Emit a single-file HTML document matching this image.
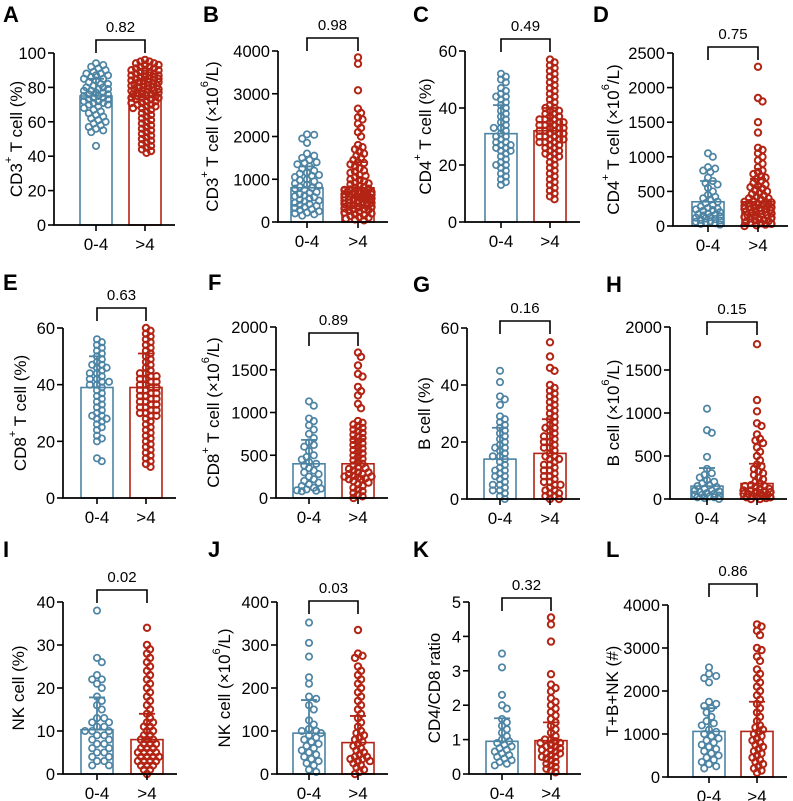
<!DOCTYPE html>
<html><head><meta charset="utf-8"><style>
html,body{margin:0;padding:0;background:#fff;}
svg{display:block;font-family:"Liberation Sans",Arial,sans-serif;}
</style></head><body>
<svg id="fig" width="793" height="801" viewBox="0 0 793 801" xmlns="http://www.w3.org/2000/svg"></svg>
<script>
// ---- data ----
const groups = ["0-4", ">4"];
const pValues = ["0.82","0.98","0.49","0.75","0.63","0.89","0.16","0.15","0.02","0.03","0.32","0.86"];
const barMeans = [[75,75],[800,800],[31,32],[350,350],[39,39],[400,400],[14,16],[150,180],[10.3,8],[95,73],[0.95,0.97],[1060,1060]];
const barSDTop = [[85,85],[1300,1400],[41,40],[650,680],[50,51],[680,690],[25,28],[360,410],[17.8,14],[172,135],[1.62,1.5],[1600,1750]];
const tickMax = [100,4000,60,2500,60,2000,60,2000,40,400,5,4000];
const tickStep = [20,1000,20,500,20,500,20,500,10,100,1,1000];

const aBlue=[94,93,92,91,90,89,88,88,87,87,86,85,85,84,83,82,82,81,80,80,79,79,78,78,77,77,76,76,75,75,74,74,73,73,72,72,71,71,70,70,69,68,67,66,65,64,63,62,61,60,59,58,57,56,55,54,46];
const aRed=[96,95,95,94,94,93,93,92,92,91,91,90,90,90,89,89,88,88,88,87,87,87,86,86,86,85,85,85,84,84,84,83,83,83,82,82,82,81,81,81,80,80,80,79,79,79,78,78,78,77,77,77,76,76,76,75,75,75,74,74,74,73,73,72,72,71,71,70,70,69,69,68,68,67,66,65,64,63,62,61,60,59,58,57,56,55,54,53,52,51,50,49,48,47,46,45,44,43,42];
const bBlue=[2050,2040,1950,1850,1600,1550,1500,1450,1400,1380,1350,1300,1250,1200,1150,1130,1100,1080,1050,1000,980,950,900,870,850,820,800,780,750,700,680,650,620,600,580,550,520,500,480,450,420,400,380,350,330,300,280,250,220,200,180,150];
const bRed=[3850,3700,3080,2650,2550,2450,2400,2300,2200,2100,2000,1800,1750,1700,1650,1600,1550,1500,1450,1400,1380,1350,1300,1250,1200,1180,1150,1100,1080,1050,1000,980,950,920,900,880,850,820,800,780,760,740,720,700,680,660,640,620,600,580,560,540,520,500,480,460,440,420,400,380,360,340,320,300,280,260,240,220,200,180,160,140,120,100,80,60,40,700,650,600,550,500,450,400,350,300,600,550,500,650,700,750,500,450];
const cBlue=[52,51,50,49,47,46,45,44,44,43,42,41,40,39,38,37,36,35,34,33,33,32,31,30,30,29,28,28,27,27,26,26,25,25,24,23,22,21,20,20,19,18,17,16,15,14,13];
const cRed=[57,56,55,54,53,52,51,50,49,48,47,46,45,44,43,42,41,40,40,39,39,38,38,37,37,36,36,36,35,35,35,34,34,34,33,33,33,32,32,32,31,31,31,30,30,30,29,29,29,28,28,28,27,27,26,26,25,25,24,24,23,23,22,21,20,19,18,17,16,15,14,13,12,11,10,9,8];
const dBlue=[1050,1000,850,830,800,780,700,650,620,600,550,500,450,420,400,380,350,330,300,280,260,250,240,230,220,200,180,170,160,150,140,130,120,110,100,90,80,70,60,50,40,30,20];
const dRed=[2300,1850,1800,1500,1350,1130,1100,1050,1000,950,900,850,800,780,750,720,700,680,650,620,600,580,560,540,520,500,480,460,440,420,400,380,360,350,340,330,320,310,300,290,280,270,260,250,240,230,220,210,200,190,180,170,160,150,140,130,120,110,100,90,80,70,60,50,40,30,20,10,0,300,250,200,350,400,250];
const eBlue=[56,55,54,53,52,51,50,49,48,47,47,46,46,45,44,44,43,42,42,41,41,40,40,39,38,37,36,35,34,33,32,31,30,29,29,28,28,27,26,25,24,22,21,20,14,13];
const eRed=[60,59,58,57,56,55,54,53,52,51,50,49,48,47,46,45,44,44,43,43,42,42,41,41,40,40,39,39,38,38,37,37,36,36,35,35,34,34,33,33,32,32,31,31,30,30,29,29,28,27,26,25,24,23,22,21,20,19,18,17,16,15,14,13,12,11];
const fBlue=[1130,1080,930,900,850,800,750,700,650,620,600,550,500,480,450,420,400,380,350,320,300,280,250,220,200,180,160,140,120,110,100,90,85,80];
const fRed=[1700,1650,1550,1450,1420,1300,1250,1200,1100,1050,900,880,860,840,820,800,780,760,740,720,700,680,660,640,620,600,580,560,540,520,500,480,460,440,420,400,380,360,340,320,300,280,260,250,240,230,220,200,180,160,140,120,100,80,60,40,20,0,300,250,350,280,220];
const gBlue=[45,41,36,35,33,29,28,27,26,25,24,23,22,21,20,19,18,17,16,15,14,13,12,11,10,9,8,7,6,5,4,3,2,1,0,10,8,5,3,15,18];
const gRed=[55,50,46,45,40,39,38,37,36,35,34,33,32,31,30,29,28,27,26,25,24,23,22,21,20,19,18,17,16,15,14,13,12,11,10,9,8,7,6,5,4,3,2,1,0,20,18,15,12,10,8,5,3,2,1,0,25,22,14,6];
const hBlue=[1050,800,770,490,350,300,280,250,220,200,180,160,150,140,120,100,90,80,70,60,50,40,30,20,10,0,100,50,20];
const hRed=[1800,1150,1020,880,850,750,700,680,650,600,550,500,450,400,380,350,320,300,280,250,230,200,180,160,150,140,120,100,90,80,70,60,50,40,30,20,10,0,100,80,60,40,20,0,150,120];
const iBlue=[38,27,26,23,22,22,21,20,18,17,16,15,13,13,12,12,11,11,10,10,10,9,9,8,8,7,7,6,6,5,5,4,4,3,3,2,2];
const iRed=[34,30,29,28,27,26,25,24,23,22,21,20,19,18,17,16,15,14,13,12,12,11,11,10,10,9,9,8,8,8,7,7,7,6,6,6,5,5,5,5,4,4,4,4,3,3,3,3,2,2,2,1,1,0];
const jBlue=[352,305,273,225,210,180,175,160,150,125,115,105,100,100,95,90,85,80,75,70,65,60,55,50,45,40,35,30,25,20,10,5];
const jRed=[335,280,275,270,250,240,230,220,210,200,190,180,170,160,150,140,130,120,110,100,95,90,85,80,75,70,65,60,55,50,45,40,40,35,35,30,30,25,20,15,10,5,0];
const kBlue=[3.5,3.1,2.3,2.0,1.9,1.6,1.5,1.4,1.3,1.2,1.1,1.0,0.95,0.9,0.85,0.8,0.75,0.7,0.65,0.6,0.55,0.5,0.45,0.4,0.35,0.3,0.25];
const kRed=[4.55,4.35,3.85,2.9,2.6,2.5,2.4,2.2,2.1,2.0,1.9,1.8,1.7,1.6,1.5,1.4,1.3,1.2,1.1,1.0,1.0,0.95,0.9,0.9,0.85,0.8,0.8,0.75,0.7,0.7,0.65,0.6,0.6,0.55,0.5,0.5,0.45,0.4,0.35,0.3,0.25,0.2,0.15,0.1,0.05];
const lBlue=[2550,2400,2350,2300,2200,1750,1700,1650,1600,1500,1400,1300,1250,1200,1100,1050,1000,950,900,850,800,750,700,650,600,550,500,450,400,350,300,250,200];
const lRed=[3550,3500,3400,3300,3000,2950,2800,2700,2500,2400,2300,2200,2100,2000,1900,1800,1700,1600,1500,1400,1300,1200,1150,1100,1050,1000,950,900,850,800,750,700,650,600,550,500,450,400,350,300,250,200,150,100];

const blueSets=[aBlue,bBlue,cBlue,dBlue,eBlue,fBlue,gBlue,hBlue,iBlue,jBlue,kBlue,lBlue];
const redSets=[aRed,bRed,cRed,dRed,eRed,fRed,gRed,hRed,iRed,jRed,kRed,lRed];

// ---- layout (not data) ----
const letters="ABCDEFGHIJKL";
const L=[ // axisX, top, bottom, c1, c2, bracketY, labelX, letterX, letterY
 [54,53,225,96,145,40,16,3,22],[278,51,222,307,358,38,212,203,22],[465,51,222,501,550,39,425,413,22],[673,53,226,708,758,47,613,593,22],
 [63,328,498,97,146,308,20,3,290],[276,327,498,309,358,333,213,208,290],[467,328,499,500,550,321,424,413,292],[670,327,499,707,757,322,613,606,292],
 [63,602,774,97,147,590,18,3,557],[277,602,774,309,358,601,224,208,557],[469,602,774,502,551,598,434,413,557],[668,605,777,709,757,584,612,606,557]];
const titles=[
 [["CD3"],["+",1],[" T cell (%)"]],[["CD3"],["+",1],[" T cell (×10"],["6",1],["/L)"]],[["CD4"],["+",1],[" T cell (%)"]],[["CD4"],["+",1],[" T cell  (×10"],["6",1],["/L)"]],
 [["CD8"],["+",1],[" T cell (%)"]],[["CD8"],["+",1],[" T cell (×10"],["6",1],["/L)"]],[["B cell (%)"]],[["B cell (×10"],["6",1],["/L)"]],
 [["NK cell (%)"]],[["NK cell (×10"],["6",1],["/L)"]],[["CD4/CD8 ratio"]],[["T+B+NK (#)"]]];
const colors=["#4d84a4","#b32414"];
const NS="http://www.w3.org/2000/svg";
const svg=document.getElementById('fig');
function mk(tag,attrs,parent){const e=document.createElementNS(NS,tag);for(const k in attrs)e.setAttribute(k,attrs[k]);(parent||svg).appendChild(e);return e;}

function swarm(vals,cx,yf,half,md,step){
  const idx=vals.map((v,i)=>i).sort((a,b)=>vals[b]-vals[a]);
  const placed=[];const out=new Array(vals.length);
  idx.forEach(i=>{const y=yf(vals[i]);let best=0,bestOv=1e9;
    for(let k=0;k<=30;k++){for(const s of (k?[1,-1]:[1])){const dx=s*k*step;if(Math.abs(dx)>half)continue;
      let ov=0;for(const p of placed){const d=Math.hypot(p[0]-dx,p[1]-y);if(d<md)ov+=md-d;}
      if(ov<bestOv-0.01){bestOv=ov;best=dx;} if(ov===0)break;}
      if(bestOv===0)break;}
    placed.push([best,y]);out[i]=[cx+best,y];});
  return out;
}

for(let p=0;p<12;p++){
  const [ax,top,bot,c1,c2,bry,lx,ltx,lty]=L[p];
  const g=mk('g',{});
  
  
  const yf=v=>bot-(v/tickMax[p])*(bot-top);
  const lt=mk('text',{x:ltx,y:lty,'font-size':22,'font-weight':'bold',fill:'#000'},g);lt.textContent=letters[p];
  
  
  const cy=(top+bot)/2;
  const t=mk('text',{x:lx,y:cy,'font-size':17,'text-anchor':'middle','dominant-baseline':'central',transform:`rotate(-90 ${lx} ${cy})`,fill:'#000'},g);
  
  
  titles[p].forEach(part=>{const ts=mk('tspan',part[1]?{'font-size':11,dy:-7}:{},t);ts.textContent=part[0];if(part[1]){const r=mk('tspan',{dy:7,'font-size':17},t);r.textContent='\u200b';}});
  const sets=[blueSets[p],redSets[p]];const cs=[c1,c2];
  for(let s=0;s<2;s++){
    const cx=cs[s],col=colors[s];const yb=yf(barMeans[p][s]);
    const bar=mk('rect',{x:cx-16,y:yb,width:32,height:bot-yb,fill:'#fff',stroke:col,'stroke-width':1.6},g);
    
    
    const pts=s?swarm(sets[s],cx,yf,14,4.6,1.5):swarm(sets[s],cx,yf,14,5.4,2.4);
    pts.forEach(pt=>{const c=mk('circle',{cx:pt[0].toFixed(1),cy:pt[1].toFixed(1),r:3.2,fill:'none',stroke:col,'stroke-width':s?2:1.7},g);
      
      });
    const ys=yf(barSDTop[p][s]);
    const eb=mk('path',{d:`M${cx} ${yb}V${ys}M${cx-8} ${ys}H${cx+8}`,stroke:col,'stroke-width':1.8,fill:'none'},g);
    
    
    const xl=mk('text',{x:cx,y:bot+25,'font-size':17,'text-anchor':'middle',fill:'#000'},g);xl.textContent=groups[s];
    
    
    mk('line',{x1:cx,x2:cx,y1:bot,y2:bot+6,stroke:'#000','stroke-width':1.6},g);
  }
  const axis=mk('path',{d:`M${ax} ${top}V${bot}H${c2+30}`,stroke:'#000','stroke-width':1.7,fill:'none'},g);
  
  
  for(let v=0;v<=tickMax[p]+1e-9;v+=tickStep[p]){const y=yf(v);
    mk('line',{x1:ax-6,x2:ax,y1:y,y2:y,stroke:'#000','stroke-width':1.6},g);
    const tl=mk('text',{x:ax-8,y:y+6,'font-size':16.5,'text-anchor':'end',fill:'#000'},g);tl.textContent=String(Math.round(v*100)/100);
    
    }
  const br=mk('path',{d:`M${c1} ${bry+13}V${bry}H${c2}V${bry+13}`,stroke:'#000','stroke-width':1.6,fill:'none'},g);
  
  
  const pv=mk('text',{x:(c1+c2)/2,y:bry-8,'font-size':15,'text-anchor':'middle',fill:'#000'},g);pv.textContent=pValues[p];
  
  
}
</script>
</body></html>
